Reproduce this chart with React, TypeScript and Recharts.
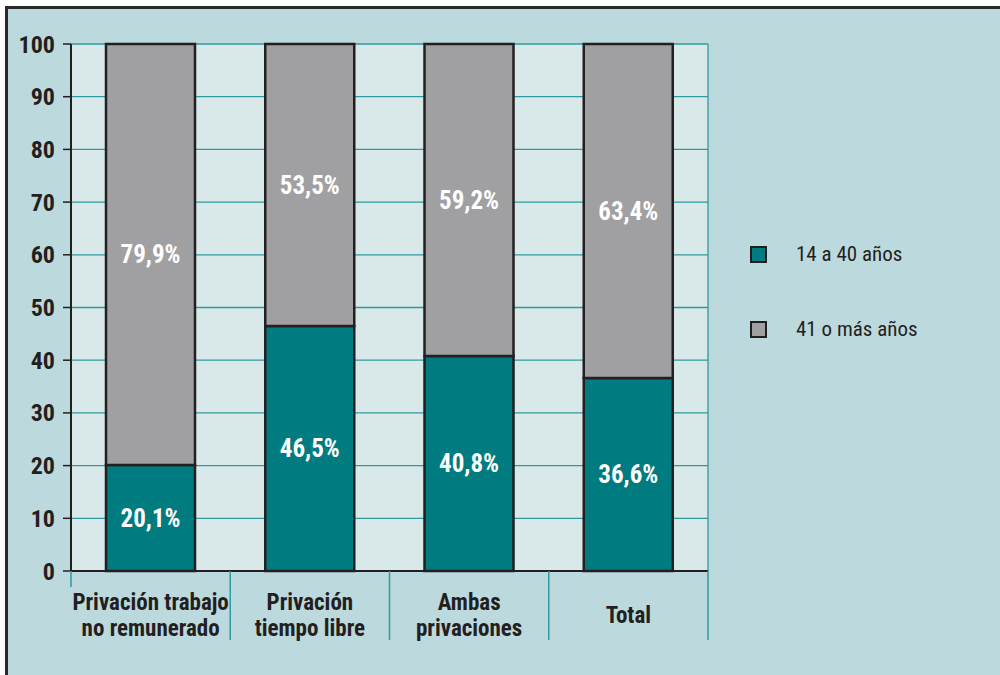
import React from "react";
import {
  BarChart,
  Bar,
  XAxis,
  YAxis,
  CartesianGrid,
  Legend,
  LabelList,
} from "recharts";

const categories = [
  "Privación trabajo\nno remunerado",
  "Privación\ntiempo libre",
  "Ambas\nprivaciones",
  "Total",
];
const young = [20.1, 46.5, 40.8, 36.6];
const older = [79.9, 53.5, 59.2, 63.4];
const yTicks = [0, 10, 20, 30, 40, 50, 60, 70, 80, 90, 100];
const seriesNames = ["14 a 40 años", "41 o más años"];

const TEAL = "#007b80";
const GRAY = "#a0a0a2";
const DARK = "#231f20";
const GRID = "#2f9a9f";
const BG = "#bcd9dd";
const PLOT = "#d9e9ea";
const FONT = "'Roboto Condensed', Roboto, 'Liberation Sans', Arial, sans-serif";

const data = categories.map((c, i) => ({ name: c, young: young[i], older: older[i] }));

function fmt(v: any): string {
  return typeof v === "number" ? v.toFixed(1).replace(".", ",") + "%" : "";
}

function CategoryTick(props: any) {
  const { x, y, payload, index } = props;
  const half = payload?.offset ?? 0;
  const lines: string[] = String(payload.value).split("\n");
  const start = 36 - (lines.length - 1) * 13;
  return (
    <g>
      {index === 0 && (
        <line x1={x - half} x2={x - half} y1={y - 8} y2={y + 8} stroke={GRID} strokeWidth={1.5} />
      )}
      <line x1={x + half} x2={x + half} y1={y - 8} y2={y + 61} stroke={GRID} strokeWidth={1.5} />
      {lines.map((l, i) => (
        <text
          key={i}
          x={x}
          y={y + start + i * 26}
          textAnchor="middle"
          dominantBaseline="central"
          fontFamily={FONT}
          fontWeight="bold"
          fontSize={23}
          fill={DARK}
        >
          {l}
        </text>
      ))}
    </g>
  );
}

function LegendBox() {
  const colors = [TEAL, GRAY];
  return (
    <div style={{ position: "absolute", left: 750, top: 240, fontFamily: FONT, whiteSpace: "nowrap" }}>
      {seriesNames.map((n, i) => (
        <div key={n} style={{ display: "flex", alignItems: "center", height: 28, marginBottom: i === 0 ? 47 : 0 }}>
          <span
            style={{
              width: 13,
              height: 13,
              flexShrink: 0,
              border: `2.5px solid ${DARK}`,
              background: colors[i],
              display: "inline-block",
            }}
          />
          <span style={{ marginLeft: 29, fontSize: 21, color: DARK }}>{n}</span>
        </div>
      ))}
    </div>
  );
}

export default function App() {
  return (
    <div style={{ position: "absolute", left: 0, top: 0, width: 1000, height: 675, background: "#ffffff", overflow: "hidden" }}>
      <div
        style={{
          position: "absolute",
          left: 5,
          top: 6,
          right: 0,
          bottom: 0,
          background: BG,
          borderTop: "3px solid #2a2a2a",
          borderLeft: "3px solid #2a2a2a",
        }}
      />
      <div style={{ position: "absolute", left: 0, top: 0 }}>
        <BarChart
          width={1000}
          height={675}
          data={data}
          margin={{ top: 44, right: 292, left: 0, bottom: 0 }}
        >
          <CartesianGrid
            fill={PLOT}
            stroke={GRID}
            strokeWidth={1.3}
            verticalCoordinatesGenerator={({ offset }: any) => [offset.left + offset.width]}
          />
          <XAxis
            dataKey="name"
            axisLine={{ stroke: DARK, strokeWidth: 2 }}
            tickLine={false}
            interval={0}
            tick={<CategoryTick />}
            height={104}
          />
          <YAxis
            type="number"
            domain={[0, 100]}
            ticks={yTicks}
            width={71}
            tickSize={8}
            tickMargin={8}
            axisLine={{ stroke: DARK, strokeWidth: 2 }}
            tickLine={{ stroke: DARK, strokeWidth: 1.5 }}
            tick={{ fontSize: 24, fontWeight: "bold", fill: DARK, fontFamily: FONT }}
          />
          <Legend content={() => <LegendBox />} wrapperStyle={{ left: 0, top: 0, width: 0, height: 0 }} />
          <Bar dataKey="young" name={seriesNames[0]} stackId="a" barSize={89} fill={TEAL} stroke={DARK} strokeWidth={2.5} isAnimationActive={false}>
            <LabelList
              dataKey="young"
              position="center"
              formatter={fmt}
              style={{ fill: "#ffffff", fontSize: 25, fontWeight: "bold", fontFamily: FONT }}
            />
          </Bar>
          <Bar dataKey="older" name={seriesNames[1]} stackId="a" barSize={89} fill={GRAY} stroke={DARK} strokeWidth={2.5} isAnimationActive={false}>
            <LabelList
              dataKey="older"
              position="center"
              formatter={fmt}
              style={{ fill: "#ffffff", fontSize: 25, fontWeight: "bold", fontFamily: FONT }}
            />
          </Bar>
        </BarChart>
      </div>
    </div>
  );
}
